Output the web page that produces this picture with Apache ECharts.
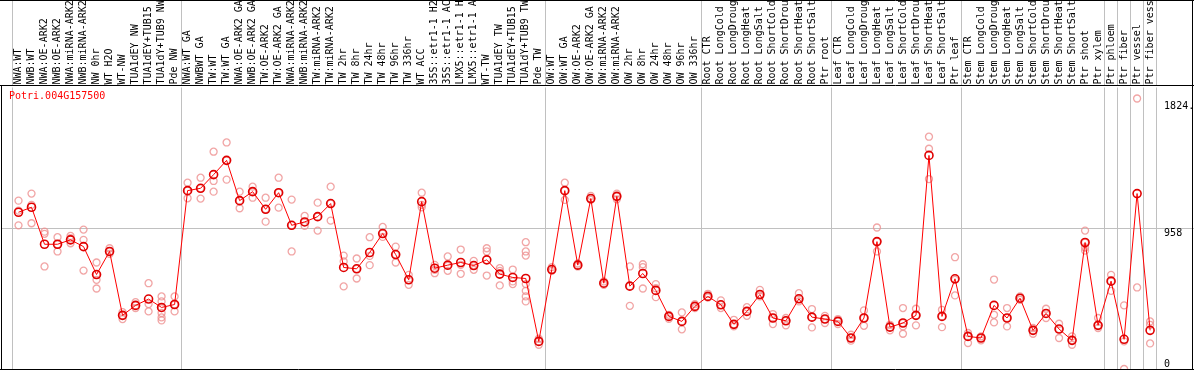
<!DOCTYPE html>
<html>
<head>
<meta charset="utf-8">
<script src="https://cdn.jsdelivr.net/npm/echarts@6/dist/echarts.min.js"></script>
<style>
html,body{margin:0;padding:0;background:#fff;}
#chart{width:1194px;height:370px;}
</style>
</head>
<body>
<div id="chart"></div>
<script>
const geneName = 'Potri.004G157500';

const categories = [
  'NWA:WT','NWB:WT','NWA:OE-ARK2','NWB:OE-ARK2','NWA:miRNA-ARK2','NWB:miRNA-ARK2','NW 0hr','WT H2O','WT-NW',
  'TUA1dEY NW','TUA1dEY+TUB15 NW','TUA1dY+TUB9 NW','Pde NW',
  'NWA:WT GA','NWBWT GA','TW:WT','TW:WT GA','NWA:OE-ARK2 GA','NWB:OE-ARK2 GA','TW:OE-ARK2','TW:OE-ARK2 GA',
  'NWA:miRNA-ARK2','NWB:miRNA-ARK2','TW:miRNA-ARK2','TW:miRNA-ARK2','TW 2hr','TW 8hr','TW 24hr','TW 48hr','TW 96hr','TW 336hr',
  'WT ACC','35S::etr1-1 H2O','35S::etr1-1 ACC','LMX5::etr1-1 H2O','LMX5::etr1-1 ACC','WT-TW','TUA1dEY TW','TUA1dEY+TUB15 TW','TUA1dY+TUB9 TW','Pde TW',
  'OW:WT','OW:WT GA','OW:OE-ARK2','OW:OE-ARK2 GA','OW:miRNA-ARK2','OW:miRNA-ARK2','OW 2hr','OW 8hr','OW 24hr','OW 48hr','OW 96hr','OW 336hr',
  'Root CTR','Root LongCold','Root LongDrought','Root LongHeat','Root LongSalt','Root ShortCold','Root ShortDrought','Root ShortHeat','Root ShortSalt','Ptr root',
  'Leaf CTR','Leaf LongCold','Leaf LongDrought','Leaf LongHeat','Leaf LongSalt','Leaf ShortCold','Leaf ShortDrought','Leaf ShortHeat','Leaf ShortSalt','Ptr leaf',
  'Stem CTR','Stem LongCold','Stem LongDrought','Stem LongHeat','Stem LongSalt','Stem ShortCold','Stem ShortDrought','Stem ShortHeat','Stem ShortSalt','Ptr shoot',
  'Ptr xylem','Ptr phloem','Ptr fiber','Ptr vessel','Ptr fiber vessel'
];

// group separators: index of the first category of each group (vertical grey lines)
const groupStarts = [0, 13, 41, 53, 63, 73, 84, 85, 86, 87];

const means = [
  1067,1101,849,849,879,833,643,800,365,433,476,419,439,
  1214,1230,1323,1420,1146,1207,1087,1200,978,1001,1037,1126,691,682,793,922,779,607,
  1139,686,707,725,704,743,646,623,616,188,
  677,1214,707,1160,584,1175,564,650,535,358,324,426,
  494,437,304,392,507,347,328,478,353,340,
  324,211,347,867,285,313,365,1454,358,614,
  222,211,433,347,482,263,378,272,195,861,
  297,598,202,1194,263
];

const replicates = [
  [1146,1078,978],[1194,1117,992],[935,920,698],[897,849,800],[906,890,856],[949,879,670],
  [725,643,607,548],[822,800,784],[387,365,340],[455,433,415],[584,442,392],[494,460,415,381,351,331],[494,439,392],
  [1268,1214,1162],[1302,1230,1160],[1479,1280,1207],[1542,1420,1289],[1207,1146,1094],[1241,1207,1166],
  [1166,1087,1003],[1302,1200,1098],[1153,978,800],[1042,1001,974],[1132,1037,942],[1241,1126,1010],
  [772,732,562],[752,682,616],[897,770,707],[967,922,899],[833,779,725],[641,607,573],
  [1200,1117,1101],[709,675,652],[766,702,668],[813,709,648],[736,704,675],[822,800,636],[686,668,569],
  [677,596,578],[863,800,772,578,532,494,460],[206,188,165],
  [693,677,668],[1268,1214,1151],[718,707,698],[1178,1160,1151],[596,584,573],[1194,1175,1155],
  [698,564,430],[713,693,548],[578,550,489],[369,358,342],[385,324,270],[442,426,415],
  [512,494,487],[467,437,415],[335,304,290],[421,392,362],[539,507,494],[374,347,306],[347,328,297],
  [516,478,460],[408,353,283],[362,340,313],
  [340,324,306],[233,211,193],[399,347,294],[963,867,800],[301,285,263],[415,313,290,240],[410,365,297],
  [1581,1499,1293],[403,358,285],[761,607,501],
  [245,222,177],[222,211,195],[609,369,317],[415,347,290],[494,482,471],[279,263,240],[410,378,347],
  [308,272,211],[222,195,165],[942,861,827,806],
  [347,297,279],[641,598,532],[433,188,0],[1841,555],[324,301,174]
];

const yMax = 1916;
const yTickValues = [958, 1824];
const yTickLabels = {958: '958', 1824: '1824.'};
const yZeroValue = [0];

const MONO = 'DejaVu Sans Mono';
const GRID_L = 12, GRID_R = 37.4, PLOT_TOP = 87.5, PLOT_BOTTOM = 1;

const scatterData = [];
replicates.forEach((reps, i) => reps.forEach(v => scatterData.push([i, v])));

const splitIntervalFn = (idx) => groupStarts.indexOf(idx) >= 0;

const chart = echarts.init(document.getElementById('chart'), null, {renderer: 'canvas'});
chart.setOption({
  animation: false,
  backgroundColor: '#fff',
  title: {
    text: geneName, left: 9, top: 90, padding: 0, z: 20,
    textStyle: {color: '#ff0000', fontFamily: MONO, fontSize: 10, fontWeight: 'normal', lineHeight: 12}
  },
  grid: [
    {left: GRID_L, right: GRID_R, top: PLOT_TOP, bottom: PLOT_BOTTOM, containLabel: false, outerBoundsMode: 'none'},
    {left: GRID_L, right: GRID_R, top: 0, height: 85, containLabel: false, outerBoundsMode: 'none'},
    {left: 2, right: 0, top: PLOT_TOP, bottom: PLOT_BOTTOM, containLabel: false, outerBoundsMode: 'none'}
  ],
  xAxis: [
    {
      gridIndex: 0, type: 'category', data: categories, position: 'top', boundaryGap: true,
      axisLine: {show: false}, axisTick: {show: false},
      axisLabel: {interval: 0, rotate: 90, margin: 3, color: '#000', fontFamily: MONO, fontSize: 10, hideOverlap: false},
      splitLine: {show: true, interval: splitIntervalFn, lineStyle: {color: '#c0c0c0', width: 1}}
    },
    {
      gridIndex: 1, type: 'category', data: categories, boundaryGap: true,
      axisLine: {show: false}, axisTick: {show: false}, axisLabel: {show: false},
      splitLine: {show: true, interval: splitIntervalFn, lineStyle: {color: '#c0c0c0', width: 1}}
    },
    {gridIndex: 2, type: 'value', show: false, min: 0, max: 1}
  ],
  yAxis: [
    {
      gridIndex: 0, type: 'value', position: 'right', min: 0, max: yMax,
      axisLine: {show: false}, axisTick: {show: false}, splitLine: {show: false},
      axisLabel: {
        customValues: yTickValues, margin: 7.5, color: '#000', fontFamily: MONO, fontSize: 10,
        verticalAlign: 'top', align: 'left',
        formatter: v => yTickLabels[v] || String(v)
      }
    },
    {
      gridIndex: 0, type: 'value', position: 'right', min: 0, max: yMax,
      axisLine: {show: false}, axisTick: {show: false}, splitLine: {show: false},
      axisLabel: {
        customValues: yZeroValue, margin: 7.5, color: '#000', fontFamily: MONO, fontSize: 10,
        verticalAlign: 'bottom', align: 'left', formatter: v => String(v)
      }
    },
    {gridIndex: 1, type: 'value', show: false, min: 0, max: 1},
    {
      gridIndex: 2, type: 'value', min: 0, max: yMax, interval: 958,
      axisLine: {show: false}, axisTick: {show: false}, axisLabel: {show: false},
      splitLine: {show: true, showMinLine: false, showMaxLine: false, lineStyle: {color: '#c0c0c0', width: 1}}
    }
  ],
  series: [
    {
      type: 'scatter', xAxisIndex: 0, yAxisIndex: 0, data: scatterData,
      symbol: 'circle', symbolSize: 7, z: 2, silent: true,
      itemStyle: {color: 'rgba(0,0,0,0)', borderColor: '#ee8f8f', borderWidth: 1.3}
    },
    {
      type: 'line', xAxisIndex: 0, yAxisIndex: 0, data: means,
      symbol: 'circle', symbolSize: 8, showAllSymbol: true, z: 3, silent: true,
      lineStyle: {color: '#ff0000', width: 1},
      itemStyle: {color: 'rgba(0,0,0,0)', borderColor: '#e00000', borderWidth: 1.6}
    }
  ],
  graphic: [
    {type: 'line', z: 100, shape: {x1: 0, y1: 0.5, x2: 1194, y2: 0.5}, style: {stroke: '#000', lineWidth: 1}},
    {type: 'line', z: 100, shape: {x1: 0, y1: 85.5, x2: 1194, y2: 85.5}, style: {stroke: '#000', lineWidth: 1}},
    {type: 'line', z: 100, shape: {x1: 1.5, y1: 85, x2: 1.5, y2: 370}, style: {stroke: '#000', lineWidth: 1}},
    {type: 'line', z: 100, shape: {x1: 1192.5, y1: 0, x2: 1192.5, y2: 370}, style: {stroke: '#000', lineWidth: 1}},
    {type: 'line', z: 100, shape: {x1: 0, y1: 369.5, x2: 1194, y2: 369.5}, style: {stroke: '#000', lineWidth: 1}}
  ]
});
</script>
</body>
</html>
